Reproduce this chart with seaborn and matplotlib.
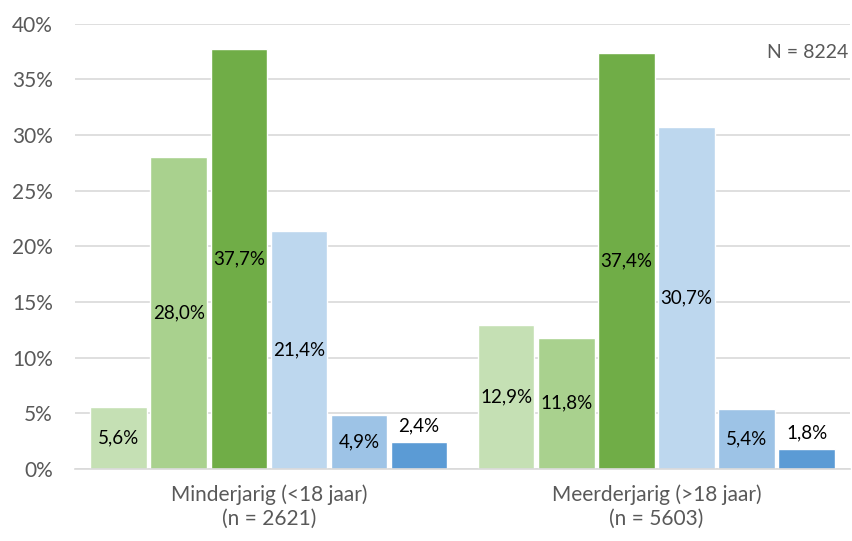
import matplotlib
matplotlib.use("Agg")
import matplotlib.pyplot as plt
import seaborn as sns
import pandas as pd
from matplotlib.ticker import PercentFormatter

# data
groepen = ["Minderjarig (<18 jaar)\n(n = 2621)", "Meerderjarig (>18 jaar)\n(n = 5603)"]
klassen = ["k1", "k2", "k3", "k4", "k5", "k6"]
minderjarig = [5.6, 28.0, 37.7, 21.4, 4.9, 2.4]
meerderjarig = [12.9, 11.8, 37.4, 30.7, 5.4, 1.8]
kleuren = ["#C5E0B4", "#A9D18E", "#70AD47", "#BDD7EE", "#9DC3E6", "#5B9BD5"]

df = pd.DataFrame({
    "groep": [groepen[0]] * 6 + [groepen[1]] * 6,
    "klasse": klassen * 2,
    "pct": minderjarig + meerderjarig,
})

sns.set_style("white")
plt.rcParams["font.family"] = ["Lato", "DejaVu Sans"]

fig = plt.figure(figsize=(8.52, 5.41), dpi=100)
ax = fig.add_axes([0.088, 0.133, 0.91, 0.823])

sns.barplot(data=df, x="groep", y="pct", hue="klasse", hue_order=klassen,
            order=groepen, palette=kleuren, width=0.93, gap=0.06,
            saturation=1, legend=False, ax=ax)

ax.set_ylim(0, 40)
ax.set_xlim(-0.5, 1.5)
ax.yaxis.set_major_formatter(PercentFormatter(decimals=0))
ax.set_yticks(range(0, 41, 5))
ax.grid(axis="y", color="#D9D9D9", linewidth=1.2)
ax.set_axisbelow(True)
for s in ["left", "right", "top"]:
    ax.spines[s].set_visible(False)
ax.spines["bottom"].set_color("#D9D9D9")
ax.spines["bottom"].set_linewidth(1.2)
ax.tick_params(axis="both", length=0, labelsize=15, colors="#595959")
ax.tick_params(axis="y", pad=16)
ax.tick_params(axis="x", pad=11)
for lbl in ax.get_xticklabels():
    lbl.set_linespacing(1.25)
ax.set_xlabel("")
ax.set_ylabel("")

# labels: centred in the bar, above the bar when it is too small
for cont in ax.containers:
    for bar in cont:
        h = bar.get_height()
        x = bar.get_x() + bar.get_width() / 2
        tekst = f"{h:.1f}%".replace(".", ",")
        if h < 3:
            ax.text(x, h + 0.7, tekst, ha="center", va="bottom", fontsize=13.5, color="black")
        else:
            ax.text(x, h / 2, tekst, ha="center", va="center", fontsize=13.5, color="black")

ax.text(0.998, 0.955, "N = 8224", transform=ax.transAxes, ha="right", va="top",
        fontsize=14, color="#595959")

fig.savefig("out.png", dpi=100)
